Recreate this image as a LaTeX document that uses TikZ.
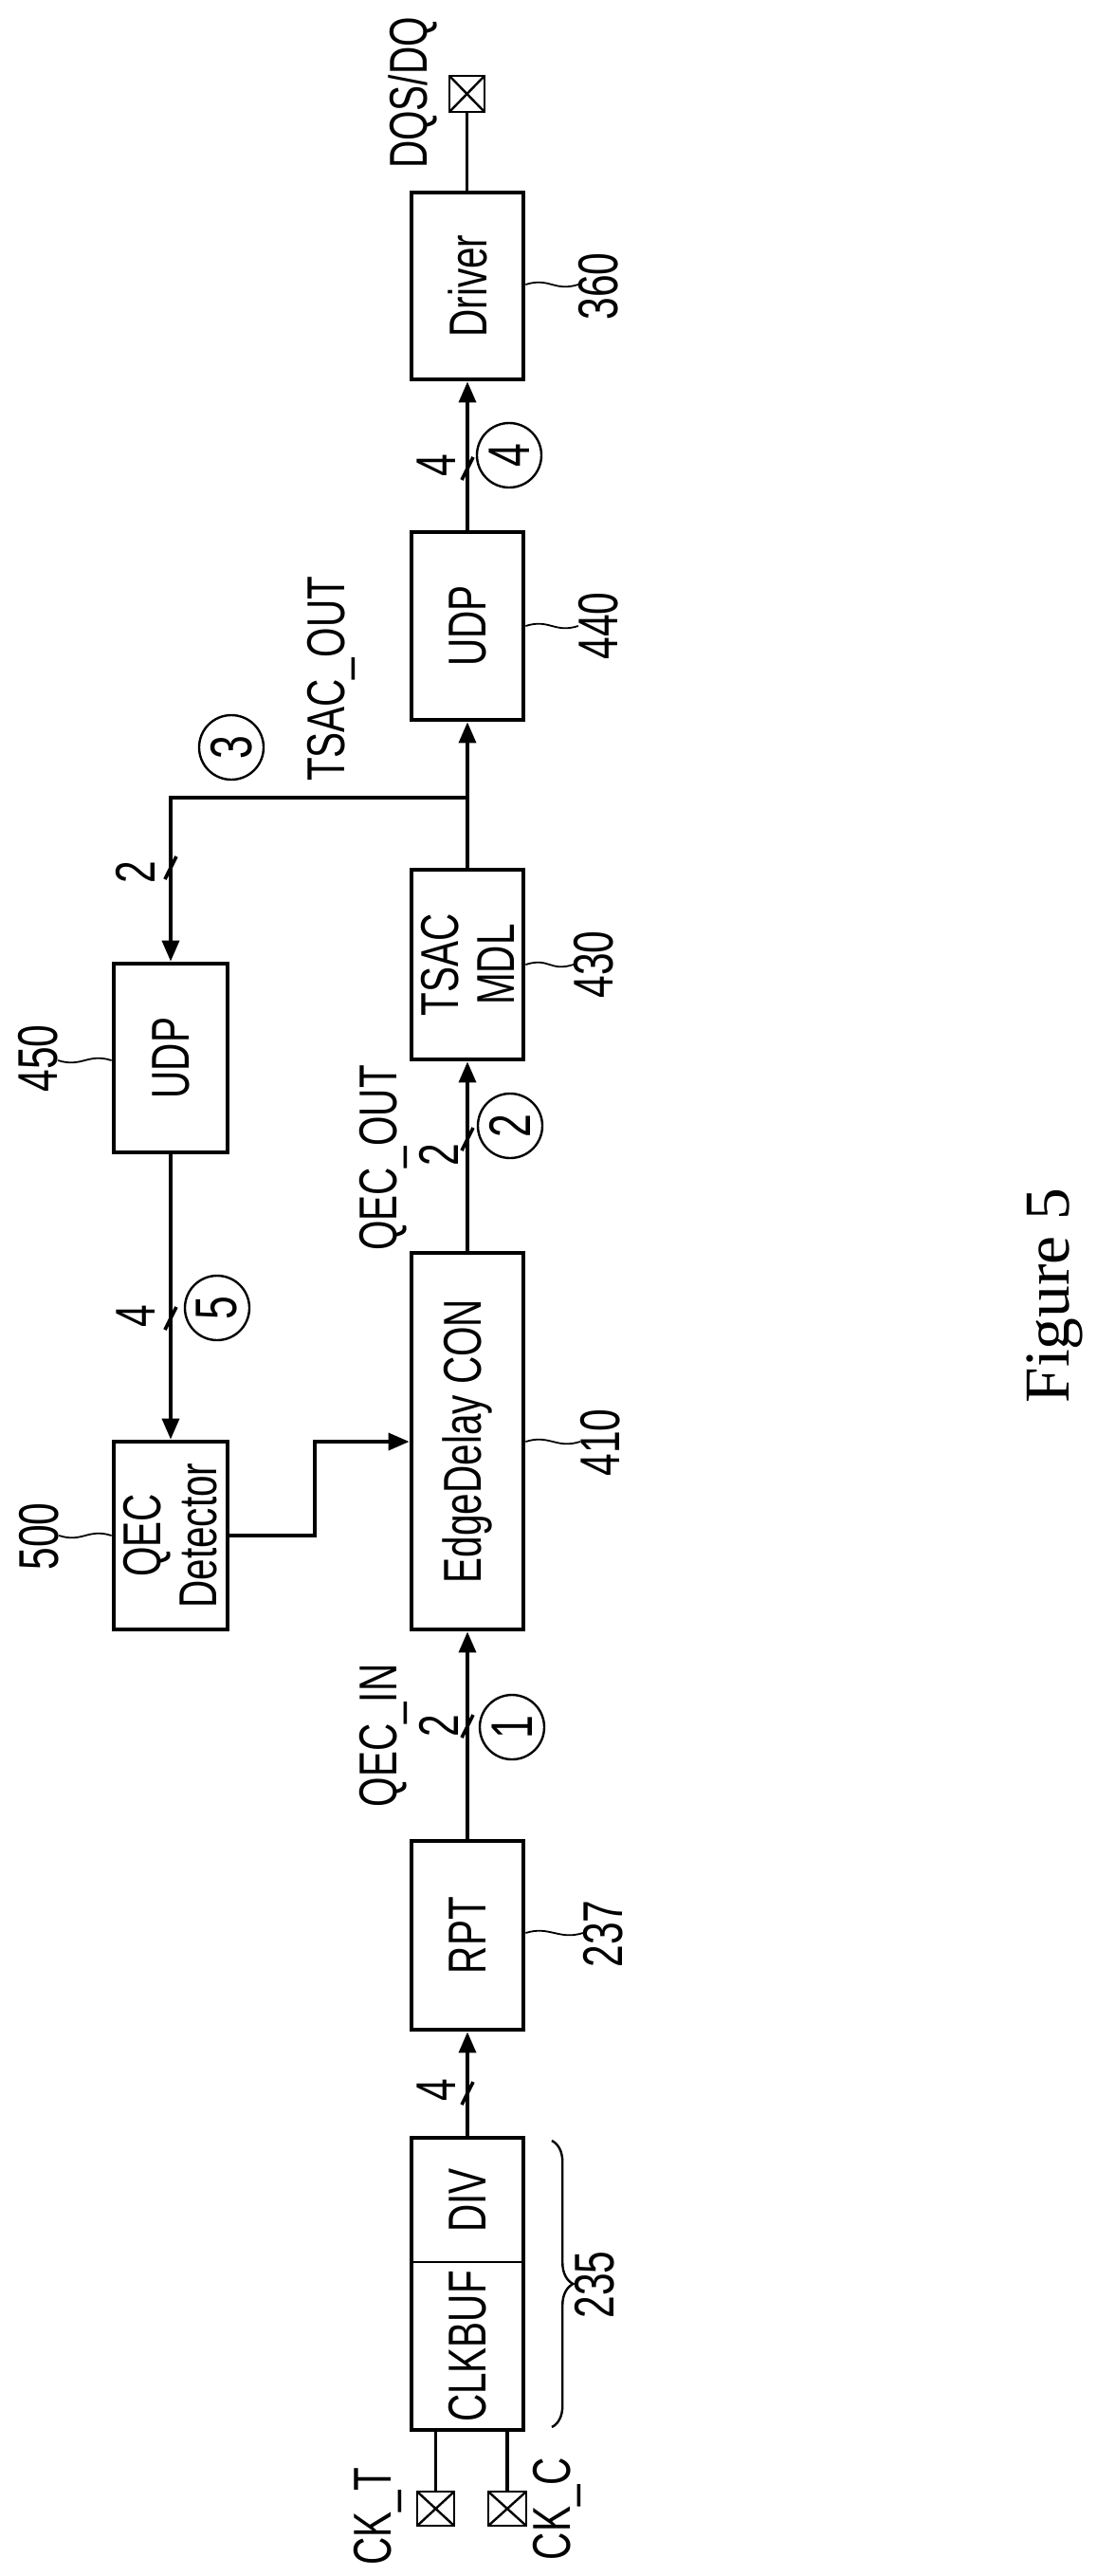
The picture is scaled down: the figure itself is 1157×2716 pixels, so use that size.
\documentclass[tikz,border=0pt]{standalone}
\usepackage{fontspec}
\setmainfont{Liberation Sans}[FakeStretch=0.72]
\newfontfamily\figfont{Liberation Serif}
\usetikzlibrary{fit,arrows.meta,decorations.pathreplacing}
\begin{document}
\begin{tikzpicture}[x=0.25mm,y=-0.25mm,
  box/.style={draw,line width=1.2mm,inner sep=0pt},
  wire/.style={line width=0.9mm},
  arr/.style={wire,-{Triangle[length=5.5mm,width=4.5mm]}},
  rot/.style={rotate=90,inner sep=0pt,font=\fontsize{40}{42}\selectfont,align=center},
  num/.style={rot,font=\fontsize{42}{44}\selectfont},
  circ/.style={draw,circle,line width=0.6mm,minimum size=17mm,inner sep=0pt,rotate=90,font=\fontsize{44}{44}\selectfont},
  pad/.style={draw,line width=0.7mm,inner sep=0pt,path picture={\draw[line width=0.6mm] (path picture bounding box.north west)--(path picture bounding box.south east) (path picture bounding box.north east)--(path picture bounding box.south west);}},
  lead/.style={line width=0.45mm}]
\useasboundingbox (0,0) rectangle (1157,2716);
% boxes
\node[box,fit={(434,203)(552,400)}] (drv) {};
\node[box,fit={(434,561)(552,759)}] (udpa) {};
\node[box,fit={(434,917)(552,1117)}] (tsac) {};
\node[box,fit={(434,1321)(552,1718)}] (edc) {};
\node[box,fit={(434,1941)(552,2140)}] (rpt) {};
\node[box,fit={(434,2254)(552,2562)}] (clk) {};
\node[box,fit={(120,1016)(240,1215)}] (udpb) {};
\node[box,fit={(120,1520)(240,1718)}] (qec) {};
\draw[line width=0.7mm] (434,2385) coordinate (dl) -- (552,2385) coordinate (dr);
% box texts
\node[rot] (tdrv) at (drv.center) {Driver};
\node[rot] (tudpa) at (udpa.center) {UDP};
\node[rot] (ttsac) at (tsac.center) {TSAC\\MDL};
\node[rot] (tedc) at (edc.center) {EdgeDelay CON};
\node[rot] (trpt) at (rpt.center) {RPT};
\node[rot] (tdiv) at (493,2320) {DIV};
\node[rot] (tclk) at (493,2474) {CLKBUF};
\node[rot] (tudpb) at (udpb.center) {UDP};
\node[rot] (tqec) at (qec.center) {QEC\\Detector};
% pads
\node[pad,fit={(474,80)(511,118)}] (pdq) {};
\node[pad,fit={(440,2627)(479,2663)}] (pckt) {};
\node[pad,fit={(515,2627)(555,2663)}] (pckc) {};
\node[rot] (ldq) at (435,98) {DQS/DQ};
\node[rot] (lckt) at (398,2653) {CK\_T};
\node[rot] (lckc) at (587,2645) {CK\_C};
% wires
\draw[wire] (drv.north -| pdq.south) -- (pdq.south);
\draw[arr] (udpa.north) -- (drv.south);
\coordinate (br) at (udpa.south |- 0,841);
\draw[arr] (tsac.north) -- (udpa.south);
\draw[arr] (br) -- (udpb.north |- br) -- (udpb.north);
\draw[arr] (edc.north) -- (tsac.south);
\draw[arr] (udpb.south) -- (qec.north);
\draw[arr] (qec.east |- 0,1619) -- (332,1619) -- (332,1520) -- (edc.west |- 0,1520);
\draw[arr] (rpt.north) -- (edc.south);
\draw[arr] (clk.north) -- (rpt.south);
\draw[wire] (clk.south -| pckt.north) -- (pckt.north);
\draw[wire] (clk.south -| pckc.north) -- (pckc.north);
% bus slashes
\foreach \x/\y in {493/494, 180/915, 493/1201, 180/1390, 493/1820, 493/2207}
  \draw[wire] (\x-6,\y+12) -- (\x+6,\y-12);
\node[num] (n4a) at (460,491) {4};
\node[num] (n2a) at (143,920) {2};
\node[num] (n2b) at (463,1218) {2};
\node[num] (n4b) at (143,1388) {4};
\node[num] (n2c) at (463,1820) {2};
\node[num] (n4c) at (460,2204) {4};
% circled
\node[circ] (c4) at (537,480) {4};
\node[circ] (c3) at (244,788) {3};
\node[circ] (c2) at (538,1187) {2};
\node[circ] (c5) at (229,1379) {5};
\node[circ] (c1) at (540,1821) {1};
% signal labels
\node[rot] (ltsac) at (349,716) {TSAC\_OUT};
\node[rot] (lqo) at (404,1221) {QEC\_OUT};
\node[rot] (lqi) at (404,1830) {QEC\_IN};
% reference numerals with leaders
\node[num] (r360) at (631,302) {360};
\node[num] (r440) at (631,660) {440};
\node[num] (r430) at (626,1017) {430};
\node[num] (r410) at (633,1521) {410};
\node[num] (r237) at (636,2039) {237};
\node[num] (r235) at (627,2409) {235};
\node[num] (r450) at (40,1116) {450};
\node[num] (r500) at (41,1620) {500};
\foreach \b/\r/\y in {drv/r360/300, udpa/r440/660, tsac/r430/1017, edc/r410/1520, rpt/r237/2038}
  \draw[lead] (\b.east |- 0,\y) .. controls ++(25,-8) and ++(-25,8) .. (\r.north |- 0,\y);
\foreach \b/\r/\y in {udpb/r450/1118, qec/r500/1619}
  \draw[lead] (\b.west |- 0,\y) .. controls ++(-25,-8) and ++(25,8) .. (\r.south |- 0,\y);
\draw[line width=0.6mm,decorate,decoration={brace,amplitude=16}] (582,2257) coordinate (bt) -- (582,2559) coordinate (bb);
\node[rotate=90,inner sep=0pt,font=\figfont\fontsize{48}{50}\selectfont] (fig) at (1112,1366) {Figure 5};
\end{tikzpicture}
\end{document}
